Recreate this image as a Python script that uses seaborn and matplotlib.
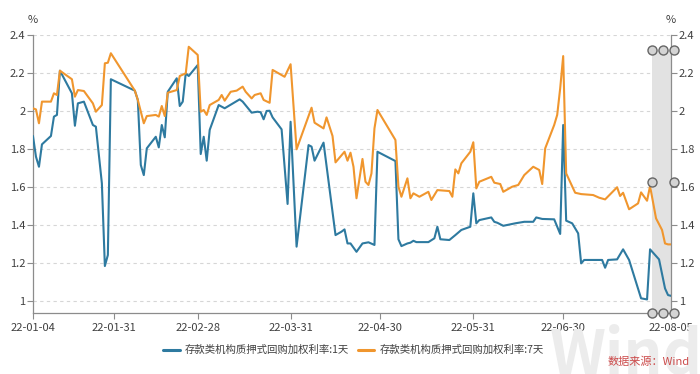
import matplotlib
matplotlib.use("Agg")
import matplotlib.pyplot as plt
import matplotlib.dates as mdates
import pandas as pd
import seaborn as sns

# ---------------- data ----------------
series_names = ["存款类机构质押式回购加权利率:1天", "存款类机构质押式回购加权利率:7天"]

dates_1d = [
    "2022-01-04", "2022-01-05", "2022-01-06", "2022-01-07", "2022-01-10", "2022-01-11", "2022-01-12",
    "2022-01-13", "2022-01-17", "2022-01-18", "2022-01-19", "2022-01-21", "2022-01-24", "2022-01-25",
    "2022-01-27", "2022-01-28", "2022-01-29", "2022-01-30",
    "2022-02-07", "2022-02-08", "2022-02-09", "2022-02-10", "2022-02-11", "2022-02-14", "2022-02-15",
    "2022-02-16", "2022-02-17", "2022-02-18", "2022-02-21", "2022-02-22", "2022-02-23", "2022-02-24",
    "2022-02-25", "2022-02-28",
    "2022-03-01", "2022-03-02", "2022-03-03", "2022-03-04", "2022-03-07", "2022-03-09", "2022-03-14",
    "2022-03-15", "2022-03-18", "2022-03-20", "2022-03-21", "2022-03-22", "2022-03-23", "2022-03-24",
    "2022-03-25", "2022-03-28", "2022-03-30", "2022-03-31",
    "2022-04-02", "2022-04-06", "2022-04-07", "2022-04-08", "2022-04-11", "2022-04-15", "2022-04-17",
    "2022-04-18", "2022-04-19", "2022-04-20", "2022-04-22", "2022-04-24", "2022-04-26", "2022-04-28",
    "2022-04-29",
    "2022-05-05", "2022-05-06", "2022-05-07", "2022-05-09", "2022-05-10", "2022-05-11", "2022-05-12",
    "2022-05-16", "2022-05-18", "2022-05-19", "2022-05-20", "2022-05-23", "2022-05-25", "2022-05-27",
    "2022-05-30", "2022-05-31",
    "2022-06-01", "2022-06-02", "2022-06-06", "2022-06-07", "2022-06-08", "2022-06-10", "2022-06-14",
    "2022-06-17", "2022-06-20", "2022-06-21", "2022-06-23", "2022-06-27", "2022-06-29", "2022-06-30",
    "2022-07-01", "2022-07-03", "2022-07-05", "2022-07-06", "2022-07-07", "2022-07-11", "2022-07-13",
    "2022-07-14", "2022-07-15", "2022-07-18", "2022-07-20", "2022-07-22", "2022-07-26", "2022-07-28",
    "2022-07-29",
    "2022-08-01", "2022-08-03", "2022-08-04", "2022-08-05",
]
rate_1d = [
    1.868, 1.759, 1.706, 1.824, 1.868, 1.970, 1.979, 2.212, 2.093, 1.922, 2.040, 2.049, 1.926, 1.917,
    1.619, 1.183, 1.241, 2.167,
    2.107, 2.058, 1.715, 1.662, 1.803, 1.864, 1.808, 1.926, 1.861, 2.101, 2.172, 2.026, 2.049, 2.198,
    2.184, 2.242,
    1.773, 1.864, 1.738, 1.900, 2.031, 2.014, 2.061, 2.049, 1.991, 1.996, 1.993, 1.956, 2.000, 2.001,
    1.966, 1.903, 1.510, 1.943,
    1.285, 1.820, 1.812, 1.738, 1.833, 1.346, 1.364, 1.376, 1.302, 1.302, 1.258, 1.302, 1.308, 1.294,
    1.785,
    1.736, 1.324, 1.288, 1.302, 1.306, 1.316, 1.309, 1.309, 1.329, 1.390, 1.324, 1.320, 1.346, 1.373,
    1.390, 1.566,
    1.408, 1.425, 1.439, 1.416, 1.411, 1.395, 1.408, 1.416, 1.416, 1.439, 1.431, 1.429, 1.352, 1.926,
    1.422, 1.408, 1.355, 1.197, 1.215, 1.215, 1.215, 1.174, 1.215, 1.218, 1.271, 1.215, 1.013, 1.007,
    1.271,
    1.218, 1.065, 1.030, 1.026,
]

dates_7d = [
    "2022-01-04", "2022-01-05", "2022-01-06", "2022-01-07", "2022-01-10", "2022-01-11", "2022-01-12",
    "2022-01-13", "2022-01-17", "2022-01-18", "2022-01-19", "2022-01-21", "2022-01-24", "2022-01-25",
    "2022-01-27", "2022-01-28", "2022-01-29", "2022-01-30",
    "2022-02-07", "2022-02-08", "2022-02-10", "2022-02-11", "2022-02-14", "2022-02-15", "2022-02-16",
    "2022-02-17", "2022-02-18", "2022-02-21", "2022-02-22", "2022-02-24", "2022-02-25", "2022-02-28",
    "2022-03-01", "2022-03-02", "2022-03-03", "2022-03-04", "2022-03-07", "2022-03-08", "2022-03-09",
    "2022-03-11", "2022-03-13", "2022-03-15", "2022-03-16", "2022-03-18", "2022-03-19", "2022-03-21",
    "2022-03-22", "2022-03-24", "2022-03-25", "2022-03-29", "2022-03-31",
    "2022-04-02", "2022-04-07", "2022-04-08", "2022-04-11", "2022-04-12", "2022-04-14", "2022-04-15",
    "2022-04-18", "2022-04-19", "2022-04-20", "2022-04-21", "2022-04-22", "2022-04-24", "2022-04-25",
    "2022-04-26", "2022-04-27", "2022-04-28", "2022-04-29",
    "2022-05-05", "2022-05-06", "2022-05-07", "2022-05-09", "2022-05-10", "2022-05-11", "2022-05-13",
    "2022-05-16", "2022-05-17", "2022-05-19", "2022-05-23", "2022-05-24", "2022-05-25", "2022-05-26",
    "2022-05-27", "2022-05-30", "2022-05-31",
    "2022-06-01", "2022-06-02", "2022-06-06", "2022-06-07", "2022-06-09", "2022-06-10", "2022-06-13",
    "2022-06-15", "2022-06-16", "2022-06-17", "2022-06-20", "2022-06-22", "2022-06-23", "2022-06-24",
    "2022-06-27", "2022-06-28", "2022-06-29", "2022-06-30",
    "2022-07-01", "2022-07-04", "2022-07-06", "2022-07-10", "2022-07-12", "2022-07-14", "2022-07-16",
    "2022-07-18", "2022-07-19", "2022-07-20", "2022-07-22", "2022-07-25", "2022-07-26", "2022-07-28",
    "2022-07-29", "2022-07-31",
    "2022-08-02", "2022-08-03", "2022-08-04", "2022-08-05",
]
rate_7d = [
    2.014, 2.008, 1.935, 2.049, 2.049, 2.093, 2.084, 2.212, 2.167, 2.075, 2.110, 2.105, 2.040, 1.996,
    2.031, 2.251, 2.254, 2.304,
    2.107, 2.058, 1.935, 1.973, 1.979, 1.970, 2.026, 1.973, 2.096, 2.110, 2.184, 2.198, 2.338, 2.295,
    1.996, 2.005, 1.979, 2.031, 2.058, 2.084, 2.054, 2.101, 2.107, 2.128, 2.101, 2.066, 2.084, 2.093,
    2.058, 2.043, 2.216, 2.180, 2.246,
    1.798, 2.017, 1.938, 1.908, 1.966, 1.868, 1.729, 1.785, 1.738, 1.780, 1.706, 1.540, 1.747, 1.627,
    1.610, 1.671, 1.908, 2.005,
    1.847, 1.601, 1.548, 1.645, 1.540, 1.566, 1.548, 1.574, 1.531, 1.583, 1.578, 1.548, 1.692, 1.671,
    1.724, 1.785, 1.835,
    1.592, 1.627, 1.653, 1.622, 1.615, 1.574, 1.601, 1.610, 1.636, 1.662, 1.706, 1.689, 1.615, 1.803,
    1.926, 1.979, 2.119, 2.289,
    1.671, 1.569, 1.562, 1.557, 1.543, 1.534, 1.566, 1.598, 1.552, 1.569, 1.482, 1.513, 1.571, 1.527,
    1.604, 1.434,
    1.373, 1.302, 1.297, 1.297,
]

y_ticks = [1.0, 1.2, 1.4, 1.6, 1.8, 2.0, 2.2, 2.4]
y_tick_labels = ["1", "1.2", "1.4", "1.6", "1.8", "2", "2.2", "2.4"]
x_tick_dates = ["2022-01-04", "2022-01-31", "2022-02-28", "2022-03-31",
                "2022-04-30", "2022-05-31", "2022-06-30", "2022-08-05"]
x_tick_labels = ["22-01-04", "22-01-31", "22-02-28", "22-03-31",
                 "22-04-30", "22-05-31", "22-06-30", "22-08-05"]
line_colors = ["#2e7aa0", "#f0962e"]

df = pd.concat([
    pd.DataFrame({"date": pd.to_datetime(dates_1d), "rate": rate_1d, "series": series_names[0]}),
    pd.DataFrame({"date": pd.to_datetime(dates_7d), "rate": rate_7d, "series": series_names[1]}),
], ignore_index=True)

# ---------------- style ----------------
sns.set_theme(style="white")
plt.rcParams["font.family"] = ["Noto Sans CJK SC", "DejaVu Sans"]
plt.rcParams["axes.unicode_minus"] = False

fig = plt.figure(figsize=(7.0, 3.74), dpi=100)
ax = fig.add_axes([0.0471, 0.1623, 0.9115, 0.7441])

# watermark
fig.text(0.785, 0.0, "Wind", fontsize=44, fontweight="bold", color="#ececec",
         ha="left", va="baseline", zorder=0)

sns.lineplot(data=df, x="date", y="rate", hue="series", palette=line_colors,
             estimator=None, linewidth=1.5, ax=ax, legend=False, zorder=3)

x0 = pd.Timestamp(x_tick_dates[0])
x1 = pd.Timestamp(x_tick_dates[-1])
ax.set_xlim(x0, x1)
ax.set_ylim(0.934, 2.4)

# grey range band on the right
band_start = pd.Timestamp("2022-07-29 16:00")
ax.axvspan(band_start, x1, ymin=0, ymax=0.946, color="#e2e2e2", zorder=1, lw=0)

ax.set_yticks(y_ticks)
ax.set_yticklabels(y_tick_labels)
ax.set_xticks(pd.to_datetime(x_tick_dates))
ax.set_xticklabels(x_tick_labels)
ax.set_xlabel("")
ax.set_ylabel("")

ax.yaxis.grid(True, linestyle=(0, (3, 3)), color="#d6d6d6", linewidth=0.8)
ax.xaxis.grid(False)
ax.set_axisbelow(True)

for side in ["left", "bottom", "right"]:
    ax.spines[side].set_visible(True)
    ax.spines[side].set_color("#8c8c8c")
    ax.spines[side].set_linewidth(0.9)
ax.spines["top"].set_visible(False)

ax.tick_params(axis="y", which="both", left=True, right=True, labelleft=True, labelright=True,
               direction="out", length=4, width=0.8, color="#8c8c8c", labelsize=8,
               labelcolor="#404040", pad=1.5)
ax.tick_params(axis="x", bottom=True, direction="out", length=4, width=0.8, color="#8c8c8c",
               labelsize=8, labelcolor="#404040", pad=3)

# slider handles (open grey circles)
hx = [0.970, 0.987, 1.005]
for yy, xs in [(0.946, hx), (0.472, [hx[0], hx[2]]), (0.0, hx)]:
    ax.plot(xs, [yy] * len(xs), "o", transform=ax.transAxes, clip_on=False,
            markersize=6.5, markerfacecolor="#d4d4d4", markeredgecolor="#666666",
            markeredgewidth=1.0, zorder=6)

# unit labels
fig.text(33 / 700, 1 - 20 / 374, "%", ha="center", va="center", fontsize=8, color="#404040")
fig.text(671 / 700, 1 - 20 / 374, "%", ha="center", va="center", fontsize=8, color="#404040")

# legend
handles = [plt.Line2D([], [], color=c, lw=2.2) for c in line_colors]
fig.legend(handles, series_names, loc="center", bbox_to_anchor=(0.505, 0.064), ncol=2,
           frameon=False, fontsize=7.5, handlelength=1.6, handletextpad=0.5,
           columnspacing=0.8, labelcolor="#404040")

# source
fig.text(0.986, 1 - 362 / 374, "数据来源：Wind", ha="right", va="center", fontsize=8,
         color="#cc4b4b")

fig.savefig("out.png", dpi=100)
